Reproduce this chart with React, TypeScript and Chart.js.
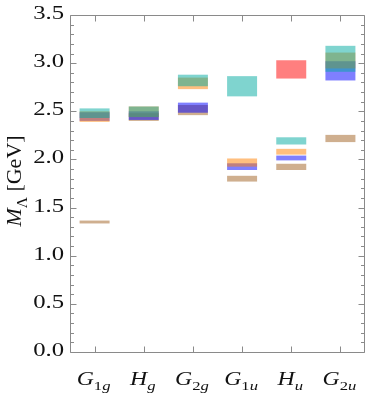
import React, { useEffect, useRef } from 'react';
import { Chart, registerables } from 'chart.js';

Chart.register(...registerables);

// Category labels: main letter + subscript
const categoryMain = ['G', 'H', 'G', 'G', 'H', 'G'];
const categorySubNum = ['1', '', '2', '1', '', '2'];
const categorySubLetter = ['g', 'g', 'g', 'u', 'u', 'u'];
const categories = categoryMain.map((m, i) => m + categorySubNum[i] + categorySubLetter[i]);

// y ticks
const yMajorTicks = [0, 0.5, 1, 1.5, 2, 2.5, 3, 3.5];
const yTickLabels = ['0.0', '0.5', '1.0', '1.5', '2.0', '2.5', '3.0', '3.5'];
const yMinorStep = 0.1;

// Series: [low, high] mass ranges (GeV)
const cyanSeries: ([number, number] | null)[] = [
  [2.43, 2.53], [2.44, 2.55], [2.76, 2.88], [2.655, 2.865], [2.155, 2.23], [2.91, 3.18],
];
const orangeSeries: ([number, number] | null)[] = [
  [2.39, 2.5], [2.44, 2.55], [2.73, 2.85], [1.925, 2.01], [2.05, 2.11], [2.945, 3.11],
];
const blueSeries: ([number, number] | null)[] = [
  [2.4, 2.49], [2.41, 2.5], [2.485, 2.59], [1.89, 1.96], [1.99, 2.04], [2.82, 3.02],
];
const tanSeries: ([number, number] | null)[] = [
  [1.335, 1.365], [2.4, 2.48], [2.46, 2.565], [1.77, 1.83], [1.89, 1.955], [2.18, 2.255],
];
const redSeries: ([number, number] | null)[] = [
  null, null, null, null, [2.84, 3.03], null,
];

const FONT = '"Liberation Serif", "DejaVu Serif", serif';

type Part = { t: string; italic?: boolean; sub?: boolean };

function drawRich(
  ctx: CanvasRenderingContext2D,
  parts: Part[],
  x: number,
  y: number,
  size: number,
  sx: number,
  align: 'center' | 'left'
) {
  const subSize = size * 0.7;
  const fontOf = (p: Part) => `${p.italic ? 'italic ' : ''}${p.sub ? subSize : size}px ${FONT}`;
  const widths = parts.map((p) => {
    ctx.font = fontOf(p);
    return ctx.measureText(p.t).width;
  });
  const total = widths.reduce((a, b) => a + b, 0) * sx;
  let cx = align === 'center' ? x - total / 2 : x;
  ctx.textAlign = 'left';
  ctx.textBaseline = 'alphabetic';
  parts.forEach((p, i) => {
    ctx.font = fontOf(p);
    ctx.save();
    ctx.translate(cx, y + (p.sub ? size * 0.27 : 0));
    ctx.scale(sx, 1);
    ctx.fillText(p.t, 0, 0);
    ctx.restore();
    cx += widths[i] * sx;
  });
}

const framePlugin = {
  id: 'frameTicks',
  afterDraw(chart: any) {
    const { ctx, chartArea: a, scales } = chart;
    const xs = scales.x;
    const ys = scales.y;
    ctx.save();
    const L = Math.round(a.left) + 0.5;
    const R = Math.round(a.right) - 0.5;
    const T = Math.round(a.top) + 0.5;
    const B = Math.round(a.bottom) + 0.5;
    ctx.strokeStyle = '#8a8a8a';
    ctx.lineWidth = 1;
    ctx.beginPath();
    ctx.rect(L, T, R - L, B - T);
    ctx.stroke();

    // y ticks (inward), left and right
    ctx.beginPath();
    const nMinor = Math.round(3.5 / yMinorStep);
    for (let i = 0; i <= nMinor; i++) {
      const v = i * yMinorStep;
      const isMajor = i % 5 === 0;
      const len = isMajor ? 6 : 3.5;
      const py = Math.round(ys.getPixelForValue(v)) + 0.5;
      ctx.moveTo(L, py);
      ctx.lineTo(L + len, py);
      ctx.moveTo(R, py);
      ctx.lineTo(R - len, py);
    }
    // x ticks, bottom and top
    categories.forEach((_, i) => {
      const px = Math.round(xs.getPixelForValue(i)) + 0.5;
      ctx.moveTo(px, B);
      ctx.lineTo(px, B - 6);
      ctx.moveTo(px, T);
      ctx.lineTo(px, T + 6);
    });
    ctx.stroke();

    // y tick labels
    ctx.fillStyle = '#111';
    ctx.font = `19px ${FONT}`;
    ctx.textAlign = 'right';
    ctx.textBaseline = 'middle';
    yMajorTicks.forEach((v, i) => {
      const py = ys.getPixelForValue(v);
      ctx.save();
      ctx.translate(64, py - 1);
      ctx.scale(1.3, 1);
      ctx.fillText(yTickLabels[i], 0, 0);
      ctx.restore();
    });

    // x tick labels with subscripts
    categories.forEach((_, i) => {
      const px = xs.getPixelForValue(i);
      const parts: Part[] = [{ t: categoryMain[i], italic: true }];
      if (categorySubNum[i]) parts.push({ t: categorySubNum[i], sub: true });
      parts.push({ t: categorySubLetter[i], italic: true, sub: true });
      drawRich(ctx, parts, px - 1, 385, 19, 1.25, 'center');
    });

    // y axis title
    ctx.save();
    ctx.translate(21, 181);
    ctx.rotate(-Math.PI / 2);
    drawRich(
      ctx,
      [
        { t: 'M', italic: true },
        { t: 'Λ', sub: true },
        { t: ' [GeV]' },
      ],
      0,
      0,
      22,
      1,
      'center'
    );
    ctx.restore();
    ctx.restore();
  },
};

export default function App() {
  const ref = useRef<HTMLCanvasElement | null>(null);
  useEffect(() => {
    if (!ref.current) return;
    const mk = (data: ([number, number] | null)[], color: string, label: string) => ({
      label,
      data: data as any,
      backgroundColor: color,
      borderWidth: 0,
    });
    const chart = new Chart(ref.current, {
      type: 'bar',
      data: {
        labels: categories,
        datasets: [
          mk(cyanSeries, 'rgba(0,170,160,0.5)', 'cyan'),
          mk(orangeSeries, 'rgba(255,128,0,0.5)', 'orange'),
          mk(blueSeries, 'rgba(0,0,255,0.5)', 'blue'),
          mk(tanSeries, 'rgba(160,96,32,0.5)', 'tan'),
          mk(redSeries, 'rgba(255,0,0,0.5)', 'red'),
        ],
      },
      options: {
        animation: false,
        responsive: false,
        layout: { padding: { top: 15, right: 9, left: 0, bottom: 0 } },
        plugins: { legend: { display: false }, tooltip: { enabled: false } },
        datasets: { bar: { grouped: false, categoryPercentage: 1, barPercentage: 0.61 } } as any,
        scales: {
          x: {
            type: 'category',
            grid: { display: false },
            border: { display: false },
            ticks: { display: false },
            afterFit: (s: any) => {
              s.height = 43;
            },
          },
          y: {
            type: 'linear',
            min: 0,
            max: 3.5,
            grid: { display: false },
            border: { display: false },
            ticks: { display: false },
            afterFit: (s: any) => {
              s.width = 70;
            },
          },
        },
      },
      plugins: [framePlugin],
    });
    return () => chart.destroy();
  }, []);
  return (
    <div style={{ position: 'fixed', left: 0, top: 0, width: 374, height: 395, background: '#fff' }}>
      <canvas ref={ref} width={374} height={395} style={{ display: 'block' }} />
    </div>
  );
}
